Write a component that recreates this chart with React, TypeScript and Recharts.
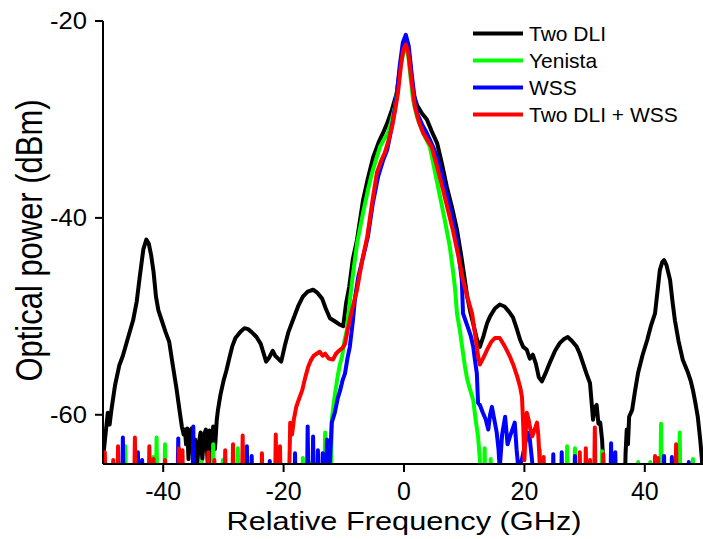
import React from 'react';
import { LineChart, Line, XAxis, YAxis, Legend, Label } from 'recharts';

// hidden noise floor, below the visible axis range
const FLOOR = -70;

const xTicks = [-40, -20, 0, 20, 40];
const yTicks = [-20, -40, -60];

// [frequency GHz, power dBm]
const twoDliTrace: [number, number][] = [
  [-50, -64.5], [-49.5, -61.5], [-49.2, -59.8], [-48.9, -61], [-48.6, -59.5], [-48, -57],
  [-47.3, -55], [-46.7, -54], [-46, -52.5], [-45, -50.4], [-44.4, -48.5], [-43.9, -46],
  [-43.3, -43.2], [-42.8, -42.2], [-42.4, -42.6], [-42, -43.8], [-41.6, -45.5], [-41.2, -48],
  [-40.8, -49.4], [-40.2, -50.5], [-39.6, -51.6], [-39, -52.6], [-38.4, -55], [-37.8, -57.3],
  [-37.3, -59.5], [-36.9, -61.2], [-36.6, -62], [-36.4, -61.5], [-36.2, -63], [-36, -61.4],
  [-35.8, -64.5], [-35.6, -62], [-35.3, -61.4], [-35, -64.8], [-34.7, -62.5], [-34.4, -65.5],
  [-34.1, -63], [-33.8, -61.8], [-33.5, -64.5], [-33.2, -62], [-32.9, -61.5], [-32.6, -65],
  [-32.3, -61.6], [-32, -64.8], [-31.7, -61.2], [-31.4, -63.5], [-31.1, -60.5], [-30.9, -59.5],
  [-30.5, -58], [-30, -56.6], [-29.5, -55.5], [-29, -54.2], [-28.5, -53], [-28, -52.2],
  [-27.2, -51.6], [-26.5, -51.2], [-25.9, -51.3], [-25.3, -51.6], [-24.5, -52.1], [-23.8, -52.8],
  [-23.4, -53.6], [-22.9, -54.6], [-22.4, -54.2], [-21.8, -53.5], [-21.4, -54], [-20.9, -54.3],
  [-20.4, -54.6], [-19.8, -53], [-19.2, -51.6], [-18.4, -50.3], [-17.6, -49], [-16.8, -48],
  [-16, -47.5], [-15.1, -47.3], [-14.4, -47.6], [-13.6, -48.2], [-13, -49.2], [-12.3, -50.2],
  [-11.5, -50.5], [-10.8, -50.8], [-10.1, -51], [-9.6, -48.6], [-9.1, -47], [-8.5, -44.2],
  [-7.8, -42.2], [-6.8, -38.2], [-6, -36], [-5.1, -33.8], [-4.2, -32.3], [-3.5, -31.4],
  [-2.8, -30.4], [-2, -29], [-1.2, -27.3], [-0.6, -24.5], [-0.2, -22.8], [0.3, -22],
  [0.8, -23.2], [1.2, -25.5], [1.5, -27.3], [2.2, -28.6], [3, -29.4], [3.8, -30],
  [4.6, -31.2], [5.5, -32.4], [6.3, -34.5], [7.1, -36.8], [8, -39], [8.8, -41.2],
  [9.5, -43.8], [10.1, -46.3], [10.5, -48], [11, -49.5], [11.6, -51], [12.1, -52.3],
  [12.6, -53.1], [13.2, -52], [13.8, -50.7], [14.3, -50], [15.1, -49.2], [15.9, -48.8],
  [16.7, -49], [17.4, -49.5], [18.1, -50.1], [18.7, -51.2], [19.3, -52.4], [19.8, -53.1],
  [20.4, -53.4], [20.9, -54.3], [21.4, -53.9], [21.9, -54.8], [22.4, -56.2], [22.9, -56.6],
  [23.5, -55.8], [24.3, -54.6], [25.1, -53.5], [25.9, -52.7], [26.6, -52.3], [27.2, -52.1],
  [27.9, -52.5], [28.7, -53.1], [29.2, -53.8], [29.7, -54.7], [30.3, -55.8], [30.9, -56.8],
  [31.2, -59], [31.4, -60.5], [31.7, -59.3], [32, -59], [32.3, -60.9], [32.6, -60.8],
  [32.9, -62.5], [33.1, -64.9], [33.3, -70], [36.6, -70], [36.8, -64], [37, -61.5],
  [37.2, -63], [37.4, -60.2], [37.9, -59.5], [38.4, -57.5], [38.9, -55.7], [39.6, -54],
  [40.4, -52.4], [41, -51], [41.7, -49.7], [42.1, -47.5], [42.5, -45.3], [42.9, -44.5],
  [43.2, -44.3], [43.6, -44.8], [44.2, -46.3], [44.6, -48.5], [45, -50.4], [45.6, -52.5],
  [46.3, -54.4], [47.1, -55.6], [47.6, -56.5], [48, -57.5], [48.4, -58.8], [48.8, -60.2],
  [49.2, -62.5], [49.5, -64.6], [49.8, -70],
];

const yenistaTrace: [number, number][] = [
  [-12.2, -70], [-12, -60.5], [-11.6, -58.5], [-11.1, -56.4], [-10.7, -55], [-10.3, -54.1],
  [-9.9, -52.5], [-9.5, -51.4], [-9.1, -49], [-8.6, -46.3], [-7.8, -42.6], [-6.8, -39.5],
  [-6, -37.2], [-5.3, -35.4], [-4.6, -34], [-4, -32.8], [-3.3, -32], [-2.7, -31.4],
  [-2.1, -30.2], [-1.5, -28.7], [-1, -26.5], [-0.5, -24.3], [-0.1, -23.2], [0.3, -22.8],
  [0.7, -23.5], [1.1, -25.8], [1.5, -28], [2.2, -29.8], [3, -31.1], [3.6, -31.9],
  [4.3, -32.8], [5.1, -35.2], [6, -37.9], [6.8, -40.3], [7.6, -42.9], [8.1, -45.2],
  [8.5, -47.3], [8.8, -49.7], [9.3, -51.5], [9.7, -53.3], [10.1, -55], [10.5, -56.4],
  [11, -57.5], [11.5, -58.5], [11.9, -60.5], [12.3, -62.2], [12.6, -64.5], [12.8, -70],
];
const yenistaSpikes: [number, number][] = [
  [-46.3, -63.2], [-41.7, -64.3], [-41.1, -62.3], [-39.7, -63], [-36.9, -64], [-33.6, -64.8],
  [-31.7, -63], [-30.1, -64.6], [-27.6, -63.4], [-16.8, -64.4], [-15.6, -64.9], [-13.1, -61.8],
  [13.4, -63.4], [14.4, -64.5], [22.6, -63.6], [27.1, -63.2], [28.4, -63.4], [32.9, -63.7],
  [38.9, -64.8], [40.9, -64.8], [42.7, -60.9], [45.8, -61.8], [48, -64.5],
];

const wssTrace: [number, number][] = [
  [-12.4, -66], [-12, -60.8], [-11.5, -59.8], [-11, -58.3], [-10.6, -57.5], [-10.2, -56.5],
  [-9.8, -55.8], [-9.4, -54.3], [-9, -53.1], [-8.5, -50.5], [-8.1, -48], [-7.6, -46],
  [-6.8, -44], [-6, -41.9], [-5.2, -38.6], [-4.3, -35.8], [-3.5, -34.2], [-2.8, -33.1],
  [-2.3, -31.6], [-1.8, -30], [-1.2, -27.5], [-0.7, -24.5], [-0.2, -22.2], [0.3, -21.4],
  [0.8, -22.6], [1.3, -25.5], [1.8, -28], [2.2, -29.4], [3, -30.5], [3.8, -31.4],
  [4.7, -32.6], [5.5, -33.8], [6.3, -35.5], [7.1, -37.5], [8, -39.8], [8.8, -42.2],
  [9.2, -44.3], [9.6, -46.3], [9.8, -49.7], [10.2, -50.4], [10.6, -51.1], [11.1, -52],
  [11.5, -53.1], [11.8, -54.5], [12.1, -55.8], [12.3, -58.8], [12.6, -59], [13.1, -59.8],
  [13.6, -60.5], [14, -61.5], [14.3, -60], [14.6, -59.2], [15, -60.5], [15.4, -61.8],
  [15.7, -63.5], [15.9, -65.5], [16.3, -62], [16.8, -60.2], [17.2, -63], [17.6, -62.2],
  [18, -61.5], [18.4, -60.8], [18.7, -63.5], [19, -65.5], [19.6, -64.5], [20.1, -63],
  [20.5, -61.8], [20.9, -62.5], [21.3, -64.8], [21.6, -70],
];
const wssSpikes: [number, number][] = [
  [-46.7, -62.3], [-44.2, -63.8], [-43.5, -64.6], [-37.5, -62.4], [-35, -61.2], [-26.1, -63.2],
  [-25.3, -64.2], [-22.3, -64.7], [-18.1, -63.9], [-16, -61.2], [-15.1, -62.2], [-14.3, -63.6],
  [-13.5, -63.9], [-12.8, -62.5], [24.8, -64], [26.2, -63.8], [28.4, -64.2], [34.4, -62.9],
  [35.1, -63.8], [43.2, -64.2], [44.5, -64.3], [47.3, -64.8],
];

const twoDliWssTrace: [number, number][] = [
  [-19.2, -70], [-18.9, -60.8], [-18.6, -62], [-18.3, -60.5], [-17.9, -59.2], [-17.5, -58.5],
  [-16.9, -57.5], [-16.4, -56.2], [-15.9, -55.1], [-15.5, -54.5], [-15, -54], [-14.5, -53.8],
  [-14, -53.6], [-13.5, -54], [-13.1, -53.8], [-12.5, -54.3], [-11.8, -54.4], [-11.3, -53.8],
  [-10.8, -53.5], [-10.2, -53.2], [-9.8, -52.8], [-9.4, -51.5], [-8.7, -49.5], [-7.8, -47.3],
  [-7, -44.5], [-6.1, -41.9], [-5.3, -38.5], [-4.5, -35.4], [-3.8, -34.2], [-3.2, -33.4],
  [-2.6, -32.2], [-2, -30.8], [-1.4, -28.8], [-1, -27.3], [-0.5, -24.5], [-0.1, -22.9],
  [0.3, -22.4], [0.7, -23.2], [1.2, -25.8], [1.8, -28.7], [2.5, -30.3], [3.2, -31.4],
  [3.9, -32.1], [4.6, -32.8], [5.5, -34.8], [6.5, -37.2], [7.3, -39.2], [8.1, -41.2],
  [9, -43.8], [9.8, -46.3], [10.5, -48], [11.3, -49.7], [11.9, -52.2], [12.3, -54],
  [12.6, -54.9], [13.2, -54.2], [13.8, -53.4], [14.5, -52.6], [15.1, -52.2], [15.9, -52.2],
  [16.7, -53], [17.6, -54.1], [18.2, -55], [18.8, -56.1], [19.3, -57.2], [19.6, -58.2],
  [19.8, -61], [20, -64.6], [20.2, -62], [20.4, -59.8], [20.7, -60.5], [21, -61.5],
  [21.3, -62.2], [21.7, -61.5], [22.1, -60.8], [22.3, -62], [22.6, -65.5], [22.8, -70],
];
const twoDliWssSpikes: [number, number][] = [
  [-49.7, -63.8], [-48.3, -64.6], [-47.5, -63.2], [-44.7, -62.3], [-42.3, -63.2], [-41.6, -64.5],
  [-39.7, -64.6], [-37.4, -63.4], [-36.8, -63.6], [-32.5, -63.8], [-31.5, -64.6], [-29.7, -63.6],
  [-28.4, -63], [-26.8, -62.1], [-23.6, -63.9], [-21.3, -62], [-20.6, -63.2], [23.2, -64.3],
  [29.2, -63.8], [30.2, -63.4], [30.9, -64.6], [31.7, -61.3], [33.1, -64], [41.7, -64.2],
  [42.2, -64.4], [45.2, -63],
];

// spikes rise from the hidden floor and fall back to it
const buildSeries = (trace: [number, number][], spikes: [number, number][] = []) => {
  const pts = trace.map(([f, p]) => ({ f, p }));
  spikes.forEach(([f, p]) => {
    pts.push({ f: f - 0.18, p: FLOOR }, { f, p }, { f: f + 0.18, p: FLOOR });
  });
  return pts.sort((a, b) => a.f - b.f);
};

const series = [
  { name: 'Two DLI', color: '#000000', data: buildSeries(twoDliTrace) },
  { name: 'Yenista', color: '#00ff00', data: buildSeries(yenistaTrace, yenistaSpikes) },
  { name: 'WSS', color: '#0000ff', data: buildSeries(wssTrace, wssSpikes) },
  { name: 'Two DLI + WSS', color: '#ff0000', data: buildSeries(twoDliWssTrace, twoDliWssSpikes) },
];

const FONT = "'Liberation Sans', Arial, Helvetica, sans-serif";

const YTick = (props: any) => {
  const { x, y, payload } = props;
  return (
    <text x={x} y={y} dy="0.36em" textAnchor="end" fontSize={23} fontFamily={FONT} fill="#000"
      textLength={37} lengthAdjust="spacingAndGlyphs">
      {payload.value}
    </text>
  );
};

const XTick = (props: any) => {
  const { x, y, payload } = props;
  return (
    <text x={x} y={y} dy="0.71em" textAnchor="middle" fontSize={25} fontFamily={FONT} fill="#000">
      {payload.value}
    </text>
  );
};

const XTitle = (props: any) => {
  const vb = props.viewBox;
  return (
    <text x={vb.x + vb.width / 2} y={vb.y + 66} textAnchor="middle" fontSize={25.5} fontFamily={FONT}
      fill="#000" textLength={355} lengthAdjust="spacingAndGlyphs">
      Relative Frequency (GHz)
    </text>
  );
};

const YTitle = (props: any) => {
  const vb = props.viewBox;
  const cx = vb.x + 19;
  const cy = vb.y + vb.height / 2 - 2;
  return (
    <text x={cx} y={cy} transform={`rotate(-90 ${cx} ${cy})`} textAnchor="middle" fontSize={36}
      fontFamily={FONT} fill="#000" textLength={282} lengthAdjust="spacingAndGlyphs">
      Optical power (dBm)
    </text>
  );
};

const renderLegend = () => (
  <svg width={240} height={130}>
    {series.map((s, i) => (
      <g key={s.name}>
        <line x1={8} x2={58} y1={18.5 + i * 27} y2={18.5 + i * 27} stroke={s.color} strokeWidth={4} />
        <text x={64} y={25.5 + i * 27} fontSize={21} fontFamily={FONT} fill="#000">
          {s.name}
        </text>
      </g>
    ))}
  </svg>
);

export default function App() {
  return (
    <div style={{ position: 'absolute', left: 0, top: 0, width: 703, height: 539, overflow: 'hidden', background: '#fff' }}>
      <LineChart width={710} height={539} margin={{ top: 21, right: 5, bottom: 15, left: 23 }}>
        <XAxis
          type="number"
          dataKey="f"
          domain={[-50, 50]}
          ticks={xTicks}
          allowDataOverflow
          height={60}
          axisLine={{ stroke: '#000', strokeWidth: 2 }}
          tickLine={{ stroke: '#000', strokeWidth: 2 }}
          tickSize={8}
          tickMargin={10}
          tick={<XTick />}
        >
          <Label content={<XTitle />} />
        </XAxis>
        <YAxis
          type="number"
          domain={[-65, -20]}
          ticks={yTicks}
          allowDataOverflow
          width={80}
          axisLine={{ stroke: '#000', strokeWidth: 2 }}
          tickLine={{ stroke: '#000', strokeWidth: 2 }}
          tickSize={8}
          tickMargin={8}
          tick={<YTick />}
        >
          <Label content={<YTitle />} />
        </YAxis>
        <Legend
          layout="vertical"
          align="center"
          verticalAlign="middle"
          content={renderLegend}
          wrapperStyle={{ position: 'absolute', left: 465, top: 15, width: 240, height: 130 }}
        />
        {series.map((s) => (
          <Line
            key={s.name}
            data={s.data}
            dataKey="p"
            name={s.name}
            type="linear"
            stroke={s.color}
            strokeWidth={4}
            strokeLinejoin="round"
            dot={false}
            activeDot={false}
            isAnimationActive={false}
          />
        ))}
      </LineChart>
    </div>
  );
}
